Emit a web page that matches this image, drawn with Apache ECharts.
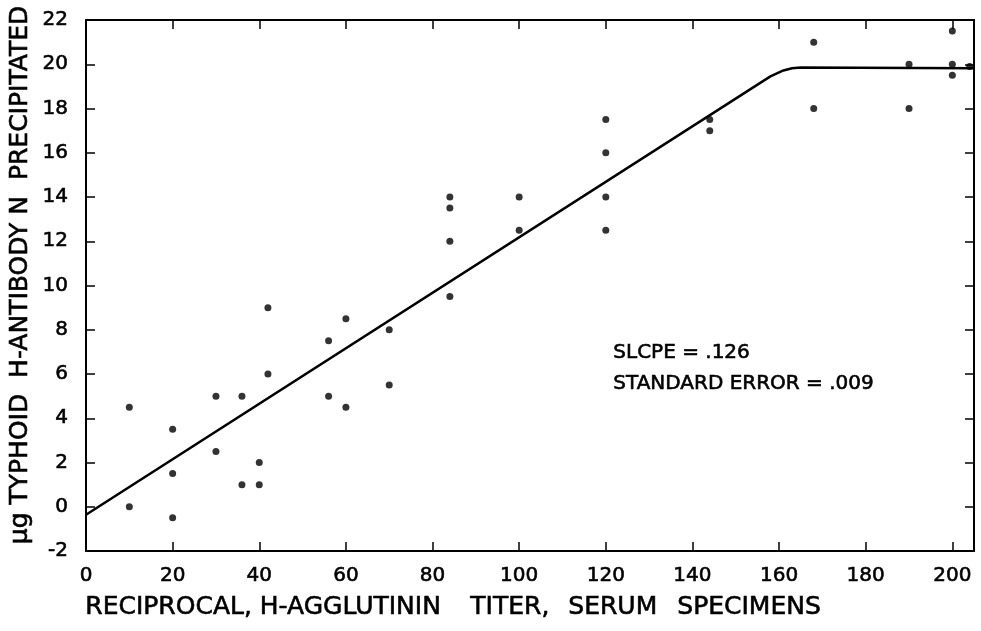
<!DOCTYPE html>
<html>
<head>
<meta charset="utf-8">
<script src="https://cdn.jsdelivr.net/npm/echarts@6/dist/echarts.min.js"></script>
<style>
  html, body { margin: 0; padding: 0; background: #fff; }
  #chart { width: 981px; height: 631px; }
</style>
</head>
<body>
<div id="chart"></div>
<script>
// titer values (x) and antibody N precipitated (y)
var titer = [10, 10, 20, 20, 20, 30, 30, 36, 36, 40, 40, 42, 42, 56, 56, 60, 60, 70, 70,
             84, 84, 84, 84, 100, 100, 120, 120, 120, 120, 144, 144, 168, 168, 190, 190,
             200, 200, 200, 204];
var antibodyN = [4.5, 0, 3.5, 1.5, -0.5, 5, 2.5, 5, 1, 2, 1, 9, 6, 7.5, 5, 8.5, 4.5, 8, 5.5,
                 14, 13.5, 12, 9.5, 14, 12.5, 17.5, 16, 14, 12.5, 17.5, 17, 21, 18, 20, 18,
                 21.5, 20, 19.5, 19.9];
// fitted line (slope .126, then plateau)
var fitX = [0, 158, 161, 163, 165, 205];
var fitY = [-0.36, 19.45, 19.72, 19.82, 19.85, 19.82];
var xTicks = [0, 20, 40, 60, 80, 100, 120, 140, 160, 180, 200];
var yTicks = [-2, 0, 2, 4, 6, 8, 10, 12, 14, 16, 18, 20, 22];

var pts = [];
for (var i = 0; i < titer.length; i++) pts.push([titer[i], antibodyN[i]]);
var fit = [];
for (var j = 0; j < fitX.length; j++) fit.push([fitX[j], fitY[j]]);

var font = 'DejaVu Sans';
var axLine = { show: true, onZero: false, lineStyle: { color: '#000', width: 2 } };
var tick = { show: true, inside: true, length: 9, lineStyle: { color: '#000', width: 1.5 } };

function txt(s, left, top, size) {
  return {
    type: 'text', left: left, top: top,
    style: { text: s, fill: '#000', font: size + 'px "DejaVu Sans"', stroke: '#000', lineWidth: 0.6 }
  };
}

var myChart = echarts.init(document.getElementById('chart'));
var option = {
  animation: false,
  backgroundColor: '#fff',
  grid: { left: 86, right: 7, top: 20, bottom: 80 },
  xAxis: [
    {
      type: 'value', min: 0, max: 205, interval: 20,
      axisLine: axLine, axisTick: tick, splitLine: { show: false },
      axisLabel: {
        color: '#000', fontFamily: font, fontSize: 20, margin: 15,
        textBorderColor: '#000', textBorderWidth: 0.6,
        showMaxLabel: false,
        formatter: function (v) { return xTicks.indexOf(v) >= 0 ? String(v) : ''; }
      }
    },
    {
      type: 'value', position: 'top', min: 0, max: 205, interval: 20,
      axisLine: axLine, axisTick: tick, splitLine: { show: false }, axisLabel: { show: false }
    }
  ],
  yAxis: [
    {
      type: 'value', min: -2, max: 22, interval: 2,
      axisLine: axLine, axisTick: tick, splitLine: { show: false },
      axisLabel: {
        color: '#000', fontFamily: font, fontSize: 20, margin: 18,
        textBorderColor: '#000', textBorderWidth: 0.6,
        formatter: function (v) { return yTicks.indexOf(v) >= 0 ? String(v) : ''; }
      }
    },
    {
      type: 'value', position: 'right', min: -2, max: 22, interval: 2,
      axisLine: axLine, axisTick: tick, splitLine: { show: false }, axisLabel: { show: false }
    }
  ],
  series: [
    {
      type: 'scatter', data: pts, symbol: 'circle', symbolSize: 7,
      itemStyle: { color: '#000' }
    },
    {
      type: 'line', data: fit, showSymbol: false, smooth: false,
      lineStyle: { color: '#000', width: 2.5 }
    }
  ],
  graphic: [
    txt('RECIPROCAL, H-AGGLUTININ', 85, 595, 25),
    txt('TITER,', 470, 595, 25),
    txt('SERUM', 568, 595, 25),
    txt('SPECIMENS', 677, 595, 25),
    {
      type: 'text', x: 20, y: 275, rotation: Math.PI / 2,
      style: { text: 'μg TYPHOID  H-ANTIBODY N  PRECIPITATED',
               fill: '#000', font: '25px "DejaVu Sans"', stroke: '#000', lineWidth: 0.6,
               textAlign: 'center', textVerticalAlign: 'middle' }
    },
    txt('SLCPE = .126', 613, 342, 20),
    txt('STANDARD ERROR = .009', 613, 373, 20)
  ]
};
myChart.setOption(option);
</script>
</body>
</html>
